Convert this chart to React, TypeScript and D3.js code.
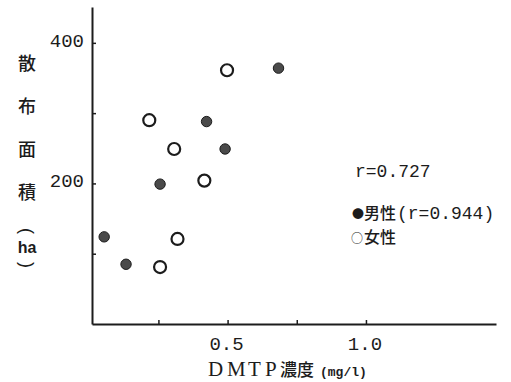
import React, { useEffect, useRef } from "react";
import * as d3 from "d3";

// 男性 (filled) and 女性 (open) samples: DMTP濃度 (mg/l) vs 散布面積 (ha)
const maleX = [0.054, 0.133, 0.256, 0.424, 0.491, 0.684];
const maleY = [124, 85, 199, 288, 249, 364];
const femaleX = [0.217, 0.307, 0.416, 0.319, 0.256, 0.498];
const femaleY = [290, 249, 204, 121, 81, 361];

const xTicks = [0.25, 0.5, 0.75, 1.0];
const xTickLabels = ["0.5", "1.0"];
const yTicks = [100, 200, 300, 400];
const yTickLabels = ["200", "400"];

const W = 511;
const H = 382;
const ink = "#1c1c1c";
const mono = "'Liberation Mono', 'DejaVu Sans Mono', monospace";
const cjk = "'Noto Sans CJK JP', sans-serif";

export default function App() {
  const svgRef = useRef<SVGSVGElement>(null);

  useEffect(() => {
    const svg = d3.select(svgRef.current);
    svg.selectAll("*").remove();

    const x = d3.scaleLinear().domain([0.01, 1.47]).range([92, 496]);
    const y = d3.scaleLinear().domain([0, 451]).range([324, 7]);

    // axes
    const xAxis = d3
      .axisBottom(x)
      .tickValues(xTicks)
      .tickSizeInner(-4)
      .tickSizeOuter(0)
      .tickFormat(() => "");
    svg
      .append("g")
      .attr("transform", `translate(0, ${y.range()[0]})`)
      .call(xAxis)
      .call(g => g.select(".domain").attr("stroke", ink).attr("stroke-width", 2))
      .call(g => g.selectAll(".tick line").attr("stroke", ink).attr("stroke-width", 1.5));

    const yAxis = d3
      .axisLeft(y)
      .tickValues(yTicks)
      .tickSizeInner(-4)
      .tickSizeOuter(0)
      .tickFormat(() => "");
    svg
      .append("g")
      .attr("transform", `translate(${x.range()[0]}, 0)`)
      .call(yAxis)
      .call(g => g.select(".domain").attr("stroke", ink).attr("stroke-width", 2))
      .call(g => g.selectAll(".tick line").attr("stroke", ink).attr("stroke-width", 1.5));

    // tick labels (only every other tick is labelled)
    svg
      .selectAll("text.xl")
      .data(xTickLabels)
      .join("text")
      .attr("class", "xl")
      .attr("x", d => x(+d) - 1)
      .attr("y", 350)
      .attr("text-anchor", "middle")
      .style("font-family", mono)
      .style("font-size", "19px")
      .attr("fill", ink)
      .text(d => d);

    svg
      .selectAll("text.yl")
      .data(yTickLabels)
      .join("text")
      .attr("class", "yl")
      .attr("x", 84)
      .attr("y", d => y(+d) + 4)
      .attr("text-anchor", "end")
      .style("font-family", mono)
      .style("font-size", "19px")
      .attr("fill", ink)
      .text(d => d);

    // points
    const male = maleX.map((v, i) => [v, maleY[i]]);
    const female = femaleX.map((v, i) => [v, femaleY[i]]);

    svg
      .selectAll("circle.f")
      .data(female)
      .join("circle")
      .attr("class", "f")
      .attr("cx", d => x(d[0]))
      .attr("cy", d => y(d[1]))
      .attr("r", 6)
      .attr("fill", "#fff")
      .attr("stroke", ink)
      .attr("stroke-width", 2.2);

    svg
      .selectAll("circle.m")
      .data(male)
      .join("circle")
      .attr("class", "m")
      .attr("cx", d => x(d[0]))
      .attr("cy", d => y(d[1]))
      .attr("r", 5.2)
      .attr("fill", "#4a4a4a")
      .attr("stroke", ink)
      .attr("stroke-width", 1);

    // y axis title, written vertically
    const yTitle = [
      { t: "散", y: 64 },
      { t: "布", y: 107 },
      { t: "面", y: 150 },
      { t: "積", y: 193 }
    ];
    svg
      .selectAll("text.yt")
      .data(yTitle)
      .join("text")
      .attr("class", "yt")
      .attr("x", 27)
      .attr("y", d => d.y)
      .attr("dy", "0.36em")
      .attr("text-anchor", "middle")
      .style("font-family", cjk)
      .style("font-size", "18px")
      .style("font-weight", 500)
      .attr("fill", ink)
      .text(d => d.t);

    // rotated parentheses around "ha"
    [
      { t: "(", y: 231 },
      { t: ")", y: 265 }
    ].forEach(p => {
      svg
        .append("text")
        .attr("x", 27)
        .attr("y", p.y)
        .attr("dy", "0.34em")
        .attr("text-anchor", "middle")
        .attr("transform", `rotate(90, 27, ${p.y})`)
        .style("font-family", "'Liberation Sans', sans-serif")
        .style("font-size", "18px")
        .attr("fill", ink)
        .text(p.t);
    });
    svg
      .append("text")
      .attr("x", 27)
      .attr("y", 253)
      .attr("text-anchor", "middle")
      .style("font-family", "'Liberation Sans', sans-serif")
      .style("font-size", "16px")
      .style("font-weight", "bold")
      .attr("fill", ink)
      .text("ha");

    // x axis title
    const xt = svg.append("text").attr("y", 376).attr("fill", ink);
    xt.append("tspan")
      .attr("x", "208 227 248 265")
      .style("font-family", "'Liberation Serif', serif")
      .style("font-size", "21px")
      .text("DMTP");
    xt.append("tspan")
      .attr("x", 280)
      .style("font-family", cjk)
      .style("font-size", "17px")
      .style("font-weight", 500)
      .text("濃度");
    xt.append("tspan")
      .attr("x", 320)
      .style("font-family", mono)
      .style("font-size", "13px")
      .style("font-weight", "bold")
      .text("(mg/l)");

    // annotation / legend
    svg
      .append("text")
      .attr("x", 355)
      .attr("y", 177)
      .style("font-family", mono)
      .style("font-size", "18px")
      .attr("fill", ink)
      .text("r=0.727");

    const l1 = svg.append("text").attr("y", 219).attr("fill", ink);
    l1.append("tspan").attr("x", 352).style("font-family", cjk).style("font-size", "12px").text("●");
    l1.append("tspan")
      .attr("x", 364)
      .style("font-family", cjk)
      .style("font-size", "16px")
      .style("font-weight", 500)
      .text("男性");
    l1.append("tspan")
      .attr("x", 397)
      .style("font-family", mono)
      .style("font-size", "18px")
      .text("(r=0.944)");

    const l2 = svg.append("text").attr("y", 243).attr("fill", ink);
    l2.append("tspan").attr("x", 351).style("font-family", cjk).style("font-size", "12px").text("○");
    l2.append("tspan")
      .attr("x", 364)
      .style("font-family", cjk)
      .style("font-size", "16px")
      .style("font-weight", 500)
      .text("女性");
  }, []);

  return (
    <svg
      ref={svgRef}
      width={W}
      height={H}
      style={{ position: "absolute", left: 0, top: 0, background: "#fff" }}
    />
  );
}
